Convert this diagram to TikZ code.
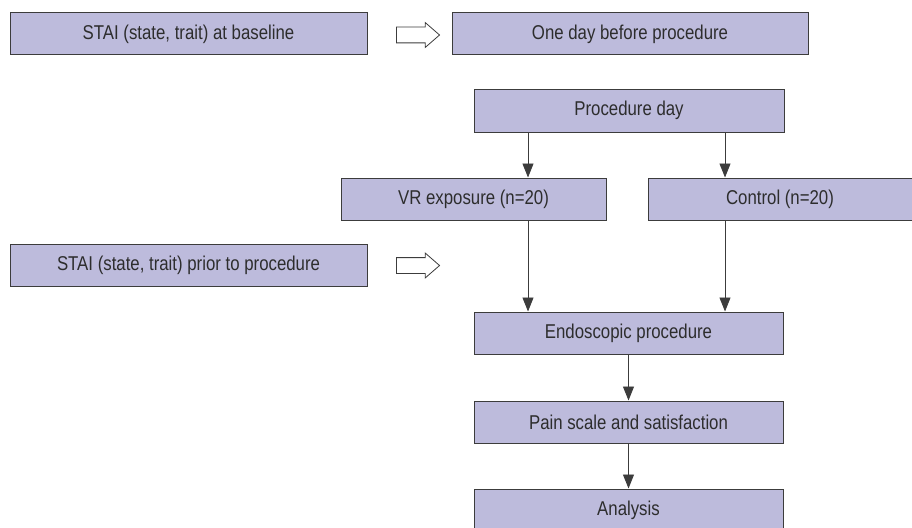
\documentclass[tikz,border=0pt]{standalone}
\usepackage{fontspec}
\setmainfont{Liberation Sans}[FakeStretch=0.84]
\usetikzlibrary{shapes.arrows,arrows.meta}
\definecolor{boxfill}{RGB}{189,187,220}
\definecolor{boxline}{RGB}{60,60,60}
\definecolor{txt}{RGB}{45,45,45}
\begin{document}
\begin{tikzpicture}[x=1pt,y=-1pt,
  box/.style={draw=boxline,fill=boxfill,line width=1pt,minimum height=42pt,inner sep=0pt,
    font=\fontsize{20}{24}\selectfont,text=txt},
  arr/.style={draw=boxline,line width=0.9pt,-{Triangle[length=14pt,width=11pt]}},
  hollow/.style={single arrow,draw=boxline,line width=0.8pt,fill=white,inner sep=0pt,
    inner ysep=7.5pt,minimum height=43pt,single arrow head extend=4.5pt,
    single arrow tip angle=82}]
\useasboundingbox (0,0) rectangle (912,527);
\begin{scope}
\clip (0,0) rectangle (912,527);
\node[box,minimum width=357pt] (b1) at (188.5,34) {STAI (state, trait) at baseline};
\node[box,minimum width=356pt] (b2) at (630,34) {One day before procedure};
\node[box,minimum width=310pt,minimum height=43pt] (pd) at (629,110.5) {Procedure day};
\node[box,minimum width=265pt] (vr) at (473.5,199) {VR exposure (n=20)};
\node[box,minimum width=264pt] (ct) at (780,199) {Control (n=20)};
\node[box,minimum width=357pt] (s2) at (188.5,265) {STAI (state, trait) prior to procedure};
\node[box,minimum width=309pt] (en) at (628.5,333) {Endoscopic procedure};
\node[box,minimum width=309pt] (pn) at (628.5,422) {Pain scale and satisfaction};
\node[box,minimum width=309pt] (an) at (628.5,510) {Analysis};
\node[hollow] (h1) at (413.5,35) {};
\node[hollow] (h2) at (413.5,265.5) {};
\coordinate (cl) at (528,0);
\coordinate (cr) at (725,0);
\coordinate (cm) at (628.5,0);
\draw[arr] (cl |- pd.south) -- (cl |- vr.north);
\draw[arr] (cr |- pd.south) -- (cr |- ct.north);
\draw[arr] (cl |- vr.south) -- (cl |- en.north);
\draw[arr] (cr |- ct.south) -- (cr |- en.north);
\draw[arr] (cm |- en.south) -- (cm |- pn.north);
\draw[arr] (cm |- pn.south) -- (cm |- an.north);
\end{scope}
\end{tikzpicture}
\end{document}
